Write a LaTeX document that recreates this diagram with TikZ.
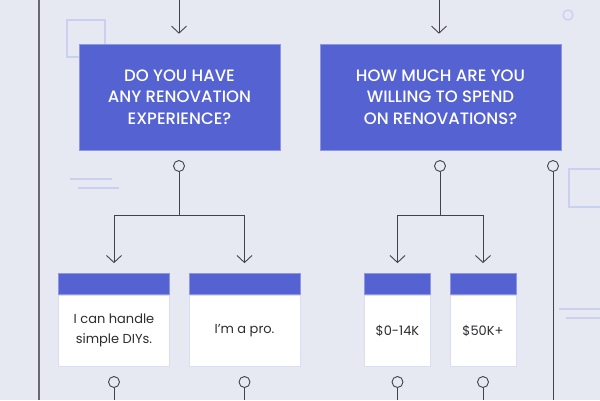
\documentclass[tikz,border=0pt]{standalone}
\usepackage{fontspec}
\setmainfont{Poppins}
\newfontfamily\titlefont{Poppins Medium}
\usetikzlibrary{arrows.meta}
\definecolor{bg}{RGB}{230,232,242}
\definecolor{qblue}{RGB}{84,98,210}
\definecolor{qedge}{RGB}{140,150,228}
\definecolor{deco}{RGB}{203,207,240}
\definecolor{ink}{RGB}{66,66,74}
\definecolor{txt}{RGB}{45,45,50}
\definecolor{aedge}{RGB}{218,221,245}
\tikzset{
  decoline/.style={draw=deco, line width=1.3pt},
  conn/.style={draw=ink, line width=0.9pt},
  arr/.style={conn, -{Straight Barb[length=7pt,width=15pt,line width=0.9pt]}},
  qbox/.style={rectangle, fill=qblue, draw=qedge, line width=0.6pt, text=white,
    align=center, font=\titlefont\fontsize{16.5}{21.5}\selectfont, inner sep=0pt},
  abox/.style={rectangle, fill=white, draw=aedge, line width=0.6pt, text=txt,
    align=center, font=\fontsize{13}{20}\selectfont, inner sep=0pt, minimum height=71pt},
  ahdr/.style={rectangle, fill=qblue, draw=qedge, line width=0.6pt, inner sep=0pt,
    minimum height=21pt, anchor=south},
  dot/.style={circle, draw=ink, fill=bg, line width=0.9pt, minimum size=11pt, inner sep=0pt}
}
\begin{document}
\begin{tikzpicture}[x=1pt,y=-1pt]
\fill[bg] (0,0) rectangle (600,400);
\useasboundingbox (0,0) rectangle (600,400);
\clip (0,0) rectangle (600,400);

% decorations
\draw[decoline] (67,20) rectangle (105,57);
\draw[decoline] (70,179) -- (112,179);
\draw[decoline] (78,188) -- (119,188);
\draw[decoline] (568,15) circle (5);
\draw[decoline] (569,169) rectangle (615,207);
\draw[decoline] (559,309) -- (605,309);
\draw[decoline] (566,318) -- (605,318);

% left frame line
\draw[draw=ink!80, line width=1.3pt] (39,0) -- (39,400);

% question boxes
\node[qbox, minimum width=201pt, minimum height=106pt] (q1) at (179.5,97)
  {DO YOU HAVE\\ANY RENOVATION\\EXPERIENCE?};
\node[qbox, minimum width=241pt, minimum height=106pt] (q2) at (440.5,97)
  {HOW MUCH ARE YOU\\WILLING TO SPEND\\ON RENOVATIONS?};

\coordinate (t1) at (179,0);
\coordinate (t2) at (439,0);
\coordinate (q1t) at ([yshift=10pt]q1.north);
\coordinate (q2t) at ([yshift=10pt]q2.north);
\draw[arr] (t1) -- (t1 |- q1t);
\draw[arr] (t2) -- (t2 |- q2t);

% answer boxes
\node[abox, minimum width=111pt] (a1) at (114,330.5) {I can handle\\simple DIYs.};
\node[abox, minimum width=111pt] (a2) at (244.5,330.5) {I’m a pro.};
\node[abox, minimum width=66pt] (a3) at (397.5,330.5) {\$0-14K};
\node[abox, minimum width=66pt] (a4) at (483,330.5) {\$50K+};
\foreach \n/\w in {a1/111,a2/111,a3/66,a4/66}{
  \node[ahdr, minimum width=\w pt] (\n h) at (\n.north) {};
}

% circles under questions
\node[dot] (c1) at (179,166) {};
\node[dot] (c2) at (440,166) {};
\node[dot] (c3) at (553,166) {};
\coordinate (j1) at (179,215);
\coordinate (j2) at (440,215);
\draw[conn] (c1.south) -- (j1);
\draw[conn] (c2.south) -- (j2);
\draw[arr] (j1) -| ([yshift=10pt]a1h.north);
\draw[arr] (j1) -| ([yshift=10pt]a2h.north);
\draw[arr] (j2) -| ([yshift=10pt]a3h.north);
\draw[arr] (j2) -| ([yshift=10pt]a4h.north);
\coordinate (e3) at (553,400);
\draw[conn] (c3.south) -- (e3);

% circles under answers
\foreach \n/\x in {a1/114,a2/244.5,a3/397.5,a4/483}{
  \node[dot] (\n d) at (\x,382) {};
  \coordinate (\n e) at (\x,400);
  \draw[conn] (\n d.south) -- (\n e);
}
\end{tikzpicture}
\end{document}
